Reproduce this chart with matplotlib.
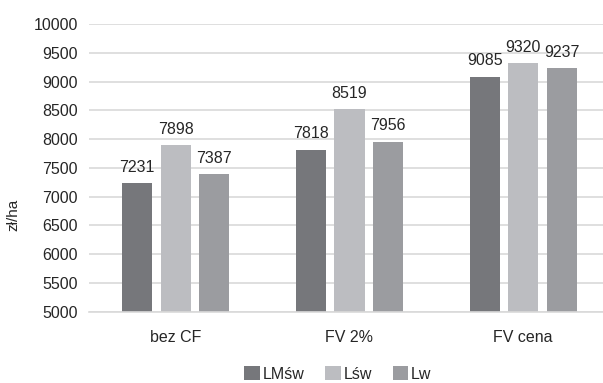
import matplotlib
matplotlib.use("Agg")
import matplotlib.pyplot as plt
import numpy as np

plt.rcParams['font.family'] = ['Liberation Sans', 'DejaVu Sans']

kategorie = ['bez CF', 'FV 2%', 'FV cena']
serie = ['LMśw', 'Lśw', 'Lw']
lmsw = [7231, 7818, 9085]
lsw = [7898, 8519, 9320]
lw = [7387, 7956, 9237]
kolory = ['#76777b', '#bcbdc1', '#9b9ca0']

fig = plt.figure(figsize=(6.03, 3.83), dpi=100)
ax = fig.add_axes([0.1476, 0.186, 0.864, 0.751])

x = np.arange(len(kategorie))
szer = 0.173
odst = 0.222
for k, (nazwa, wart) in enumerate(zip(serie, [lmsw, lsw, lw])):
    pos = x + (k - 1) * odst
    ax.bar(pos, wart, width=szer, color=kolory[k], label=nazwa, zorder=2)
    for px, v in zip(pos, wart):
        ax.annotate(str(v), (px, v), xytext=(0, 6), textcoords='offset points',
                    ha='center', va='bottom', fontsize=11.5, color='#262626')

ax.set_ylim(5000, 10000)
ax.set_yticks(np.arange(5000, 10001, 500))
ax.set_xlim(-0.5, 2.5)
ax.set_xticks(x)
ax.set_xticklabels(kategorie)
ax.tick_params(axis='both', length=0, labelsize=11.5, colors='#262626')
ax.tick_params(axis='y', pad=8)
ax.tick_params(axis='x', pad=13)
ax.yaxis.grid(True, color='#d9d9d9', linewidth=1.2, zorder=0)
ax.set_axisbelow(True)
for s in ['top', 'right', 'left']:
    ax.spines[s].set_visible(False)
ax.spines['bottom'].set_color('#d9d9d9')
ax.spines['bottom'].set_linewidth(1.2)

fig.text(0.022, 0.44, 'zł/ha', rotation=90, ha='center', va='center',
         fontsize=11, color='#262626')

fig.legend(loc='center', bbox_to_anchor=(0.56, 0.024), ncol=3, frameon=False,
           fontsize=11.5, handlelength=1.0, handleheight=1.0, handletextpad=0.15,
           columnspacing=1.3, labelcolor='#262626')

fig.savefig('out.png', dpi=100)
